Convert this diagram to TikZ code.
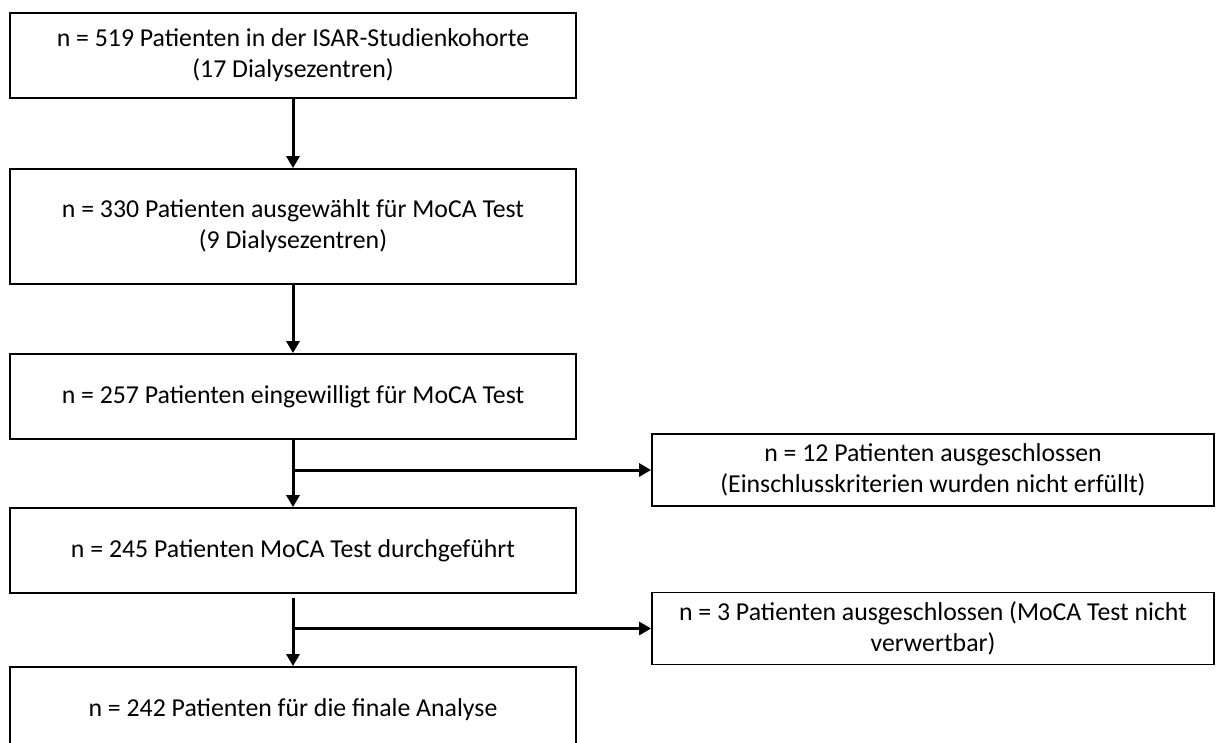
\documentclass[tikz,border=0pt]{standalone}
\usepackage{fontspec}
\setmainfont{Carlito}
\usetikzlibrary{arrows.meta,positioning,calc}
\tikzset{
    stufe/.style={draw, line width=0.9pt, minimum width=283pt, inner sep=2pt, align=center,
                  font=\fontsize{12.9}{15.5}\selectfont},
    ausschluss/.style={stufe, minimum width=281pt, minimum height=36pt},
    pfeil/.style={line width=1.5pt, -{Triangle[length=6pt, width=6.5pt]}},
}

\begin{document}
\begin{tikzpicture}[x=0.5pt, y=-0.5pt]
    \useasboundingbox (0,0) rectangle (1216,743);

    % Hauptpfad
    \node[stufe, minimum height=42.5pt] (B1) at (293,55.5) {n = 519 Patienten in der ISAR-Studienkohorte\\(17 Dialysezentren)};
    \node[stufe, minimum height=57.5pt] (B2) at (293,226.5) {n = 330 Patienten ausgewählt für MoCA Test\\(9 Dialysezentren)};
    \node[stufe, minimum height=42.5pt] (B3) at (293,396.5) {n = 257 Patienten eingewilligt für MoCA Test};
    \node[stufe, minimum height=42.5pt] (B4) at (293,550.5) {n = 245 Patienten MoCA Test durchgeführt};
    \node[stufe, minimum height=43pt] (B5) at (293,710) {n = 242 Patienten für die finale Analyse};

    % Ausschluesse
    \node[ausschluss] (A1) at (933,470) {n = 12 Patienten ausgeschlossen\\(Einschlusskriterien wurden nicht erfüllt)};
    \node[ausschluss] (A2) at (933,628.5) {n = 3 Patienten ausgeschlossen (MoCA Test nicht\\verwertbar)};

    % Pfeile
    \draw[pfeil] (B1) -- (B2);
    \draw[pfeil] (B2) -- (B3);
    \draw[pfeil] (B3) -- (B4);
    \draw[pfeil] (B3.south |- A1.west) -- (A1.west);
    \draw[pfeil, shorten <=2pt] (B4) -- (B5);
    \draw[pfeil] (B4.south |- A2.west) -- (A2.west);
\end{tikzpicture}
\end{document}
